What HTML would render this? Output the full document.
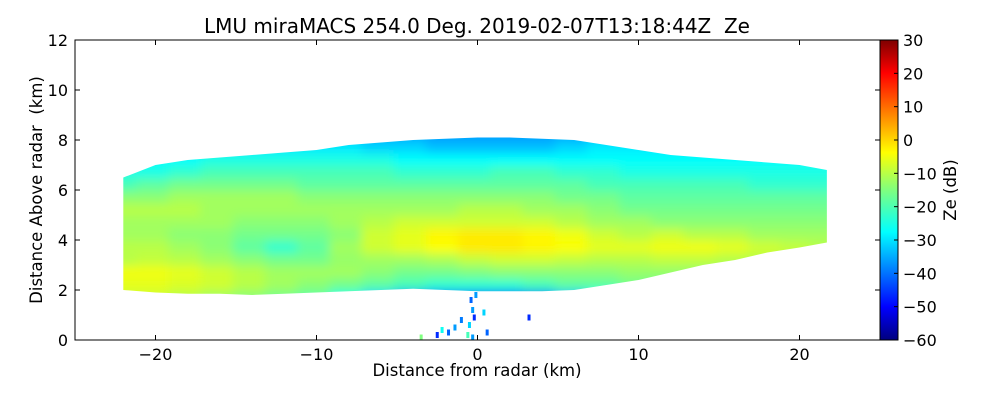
<!DOCTYPE html>
<html><head><meta charset="utf-8"><style>
body{margin:0;background:#fff;width:1000px;height:400px;overflow:hidden;font-family:"DejaVu Sans",sans-serif}
svg text{font-family:"DejaVu Sans",sans-serif;fill:#000}
</style></head><body>
<svg id="chart" width="1000" height="400">
<defs>
<filter id="blur" x="-10%" y="-10%" width="120%" height="120%"><feGaussianBlur stdDeviation="5"/></filter>
<linearGradient id="jet" x1="0" y1="1" x2="0" y2="0">
<stop offset="0" stop-color="#00007f"/><stop offset="0.11" stop-color="#0000ff"/><stop offset="0.36" stop-color="#00ffff"/>
<stop offset="0.5" stop-color="#7fff7f"/><stop offset="0.625" stop-color="#ffff00"/><stop offset="0.89" stop-color="#ff0000"/><stop offset="1" stop-color="#7f0000"/>
</linearGradient>
</defs>
</svg>
<script>
const cols=[-22,-20,-18,-16,-14,-12,-10,-8,-6,-4,-2,0,2,4,6,8,10,12,14,16,18,20,21.7];
const topH=[6.5,7.0,7.2,7.3,7.4,7.5,7.6,7.8,7.9,8.0,8.05,8.1,8.1,8.05,8.0,7.8,7.6,7.4,7.3,7.2,7.1,7.0,6.8];
const botH=[2.0,1.9,1.85,1.85,1.8,1.85,1.9,1.95,2.0,2.05,2.0,1.95,1.95,1.95,2.0,2.2,2.4,2.7,3.0,3.2,3.5,3.7,3.9];
const rowH=[1.5,2.0,2.5,3.0,3.5,4.0,4.5,5.0,5.5,6.0,6.5,7.0,7.5,8.0];
const ze=[
[-8,-8,-10,-12,-14,-16,-18,-24,-30,-36,-40,-40,-40,-38,-32,-26,-18,-16,-15,-15,-15,-15,-15],
[-6,-6,-7,-8,-10,-12,-14,-16,-18,-20,-22,-22,-22,-20,-18,-18,-16,-16,-15,-15,-15,-15,-15],
[-5,-5,-6,-8,-10,-12,-12,-12,-14,-16,-16,-15,-14,-14,-14,-14,-13,-13,-13,-13,-12,-12,-12],
[-10,-9,-10,-12,-14,-16,-16,-13,-12,-12,-11,-9,-8,-8,-9,-10,-10,-9,-9,-10,-10,-10,-10],
[-10,-10,-12,-14,-18,-22,-18,-12,-8,-6,-4,-2,-2,-3,-4,-6,-6,-5,-5,-6,-8,-9,-10],
[-12,-12,-14,-14,-16,-16,-16,-14,-8,-6,-3,-2,-2,-3,-5,-8,-10,-8,-10,-10,-12,-12,-12],
[-12,-12,-12,-12,-14,-14,-14,-12,-10,-8,-8,-8,-8,-8,-10,-12,-12,-14,-14,-14,-14,-14,-14],
[-10,-10,-10,-12,-12,-12,-12,-12,-12,-12,-12,-10,-10,-12,-12,-14,-16,-16,-16,-16,-16,-16,-16],
[-14,-14,-12,-12,-12,-12,-14,-14,-14,-14,-14,-14,-14,-14,-16,-16,-18,-18,-18,-18,-18,-18,-18],
[-20,-18,-16,-16,-16,-16,-18,-18,-18,-18,-18,-18,-18,-18,-18,-20,-20,-20,-20,-20,-22,-22,-22],
[-24,-24,-22,-20,-20,-20,-20,-20,-20,-22,-22,-22,-20,-20,-22,-22,-24,-24,-24,-24,-24,-24,-24],
[-26,-26,-26,-24,-24,-24,-24,-24,-24,-26,-26,-26,-26,-26,-26,-26,-26,-26,-26,-26,-26,-26,-26],
[-28,-28,-28,-28,-28,-28,-28,-28,-30,-30,-32,-32,-32,-32,-30,-28,-28,-28,-28,-28,-28,-28,-28],
[-32,-32,-32,-32,-32,-32,-32,-32,-34,-34,-35,-35,-35,-35,-34,-32,-32,-32,-32,-32,-32,-32,-32]
];
const echoX=[-0.4,-0.3,-0.2,-0.5,-1.4,-1.8,-2.2,-2.5,-0.1,0.4,0.6,3.2,-0.6,-0.3,-3.5,-1.0];
const echoH=[1.6,1.2,0.9,0.6,0.5,0.3,0.4,0.2,1.8,1.1,0.3,0.9,0.2,0.1,0.1,0.8];
const echoZe=[-40,-35,-45,-30,-35,-40,-25,-45,-35,-30,-40,-45,-20,-35,-15,-38];
const xTicks=[-20,-10,0,10,20];
const yTicks=[0,2,4,6,8,10,12];
const cTicks=[30,20,10,0,-10,-20,-30,-40,-50,-60];

const L=75,R=880,T=40,B=340;
const sx=v=>L+(v+25)/50*(R-L);
const sy=v=>B-v/12*(B-T);
const cy=v=>T+(30-v)/90*(B-T);
function jet(v){const t=Math.max(0,Math.min(1,(v+60)/90));
 const r=Math.max(0,Math.min(1,1.5-Math.abs(4*t-3))),g=Math.max(0,Math.min(1,1.5-Math.abs(4*t-2))),b=Math.max(0,Math.min(1,1.5-Math.abs(4*t-1)));
 return `rgb(${Math.round(r*255)},${Math.round(g*255)},${Math.round(b*255)})`;}
const NS='http://www.w3.org/2000/svg';
const svg=document.getElementById('chart');
function mk(tag,attrs,parent){const e=document.createElementNS(NS,tag);for(const k in attrs)e.setAttribute(k,attrs[k]);(parent||svg).appendChild(e);return e;}

const defs=svg.querySelector('defs');
const cp=mk('clipPath',{id:'echo'},defs);
let pts=[];
cols.forEach((c,i)=>pts.push(sx(c)+','+sy(topH[i])));
for(let i=cols.length-1;i>=0;i--)pts.push(sx(cols[i])+','+sy(botH[i]));
mk('polygon',{points:pts.join(' ')},cp);

const outer=mk('g',{'clip-path':'url(#echo)'});


const inner=mk('g',{filter:'url(#blur)'},outer);
rowH.forEach((h,r)=>{cols.forEach((c,i)=>{
 const x0=sx(c-1.2),x1=sx(c+1.2);
 const rc=mk('rect',{x:x0,y:sy(h+0.55),width:x1-x0,height:sy(h)-sy(h+0.55)+1,fill:jet(ze[r][i])},inner);
 
 
});});
echoX.forEach((x,i)=>{
 const e=mk('rect',{x:sx(x)-1.5,y:sy(echoH[i])-3,width:3,height:6,fill:jet(echoZe[i])});
 
 
});

const fr=mk('rect',{x:L,y:T,width:R-L,height:B-T,fill:'none',stroke:'#000','stroke-width':1});


xTicks.forEach(v=>{
 mk('line',{x1:sx(v),x2:sx(v),y1:B,y2:B-5,stroke:'#000'});
 mk('line',{x1:sx(v),x2:sx(v),y1:T,y2:T+5,stroke:'#000'});
 const t=mk('text',{x:sx(v),y:B+20,'text-anchor':'middle','font-size':16});
 t.textContent=v<0?'\u2212'+(-v):v;
 
 
});
yTicks.forEach(v=>{
 mk('line',{x1:L,x2:L+5,y1:sy(v),y2:sy(v),stroke:'#000'});
 mk('line',{x1:R,x2:R-5,y1:sy(v),y2:sy(v),stroke:'#000'});
 const t=mk('text',{x:L-7,y:sy(v)+6,'text-anchor':'end','font-size':16});
 t.textContent=v;
 
 
});
const cb=mk('rect',{x:880,y:T,width:18,height:B-T,fill:'url(#jet)',stroke:'#000'});


cTicks.forEach(v=>{
 mk('line',{x1:894,x2:898,y1:cy(v),y2:cy(v),stroke:'#000'});
 const t=mk('text',{x:903,y:cy(v)+6,'font-size':16});
 t.textContent=v<0?'\u2212'+(-v):v;
 
 
});
</script>
<svg width="1000" height="400" style="position:absolute;left:0;top:0">
<text x="477" y="33" text-anchor="middle" font-size="20" xml:space="preserve">LMU miraMACS 254.0 Deg. 2019-02-07T13:18:44Z  Ze</text>
<text x="477" y="376" text-anchor="middle" font-size="16.5">Distance from radar (km)</text>
<text x="42" y="190" text-anchor="middle" font-size="16.5" transform="rotate(-90 42 190)" xml:space="preserve">Distance Above radar  (km)</text>
<text x="956" y="190" text-anchor="middle" font-size="16.5" transform="rotate(-90 956 190)">Ze (dB)</text>
</svg>
</body></html>
